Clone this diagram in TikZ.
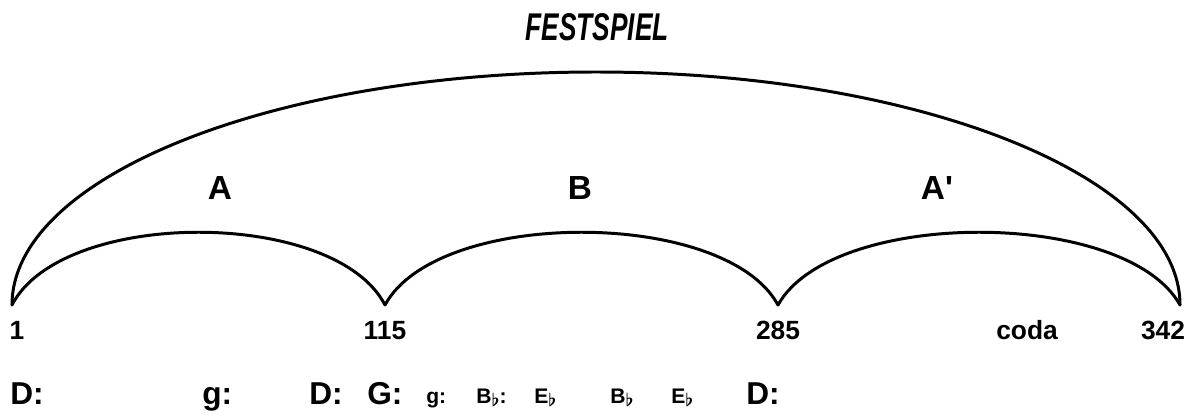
\documentclass[tikz,border=0pt]{standalone}
\usepackage{fontspec}
\usepackage{graphicx}
\setmainfont{Liberation Sans}
\usepackage{tikz}

\newcommand{\fl}{\raisebox{-0.35ex}{\scalebox{0.85}{$\boldsymbol{\flat}$}}}
\usepackage{amsmath}

\tikzset{
  arch/.style={line width=1.7pt, line cap=round},
  title/.style={font=\fontsize{22}{22}\selectfont\bfseries\itshape, xscale=0.68, anchor=base},
  part/.style={font=\fontsize{19}{19}\selectfont\bfseries, anchor=base},
  bar/.style={font=\fontsize{15}{15}\selectfont\bfseries, anchor=base},
  key/.style={font=\fontsize{18}{18}\selectfont\bfseries, anchor=base west, inner sep=0pt},
  subkey/.style={font=\fontsize{12}{12}\selectfont\bfseries, anchor=base west, inner sep=0pt}
}

\begin{document}
\begin{tikzpicture}
\useasboundingbox (0,0) rectangle (23.84,8.28);

% measure numbers on the arches
\coordinate (m1) at (0.24,2.18);
\coordinate (m115) at (7.70,2.18);
\coordinate (m285) at (15.56,2.18);
\coordinate (m342) at (23.60,2.18);
\coordinate (ftop) at (11.92,6.84);

\node[title] (fest) at (11.94,7.46) {FESTSPIEL};
\node[part] (A) at (4.40,4.30) {A};
\node[part] (B) at (11.60,4.30) {B};
\node[part] (A2) at (18.74,4.30) {A\textquotesingle};

\draw[arch] (m1) .. controls +(0,2.57) and +(-6.45,0) .. (ftop)
  .. controls +(6.45,0) and +(0,2.57) .. (m342);
\draw[arch] (m1) .. controls +(1.0,1.94) and +(-1.0,1.94) .. (m115);
\draw[arch] (m115) .. controls +(1.05,1.94) and +(-1.05,1.94) .. (m285);
\draw[arch] (m285) .. controls +(1.08,1.94) and +(-1.08,1.94) .. (m342);

\node[bar] (n1) at (0.34,1.50) {1};
\node[bar] (n115) at (7.70,1.50) {115};
\node[bar] (n285) at (15.56,1.50) {285};
\node[bar] (coda) at (20.54,1.50) {coda};
\node[bar] (n342) at (23.26,1.50) {342};

% keys
\node[key] (k1) at (0.20,0.20) {D:};
\node[key] (k2) at (4.04,0.20) {g:};
\node[key] (k3) at (6.18,0.20) {D:};
\node[key] (k4) at (7.34,0.20) {G:};
\node[subkey] (k5) at (8.52,0.22) {g:};
\node[subkey] (k6) at (9.52,0.22) {B\fl:};
\node[subkey] (k7) at (10.68,0.22) {E\fl};
\node[subkey] (k8) at (12.20,0.22) {B\fl};
\node[subkey] (k9) at (13.42,0.22) {E\fl};
\node[key] (k10) at (14.92,0.20) {D:};
\end{tikzpicture}
\end{document}
